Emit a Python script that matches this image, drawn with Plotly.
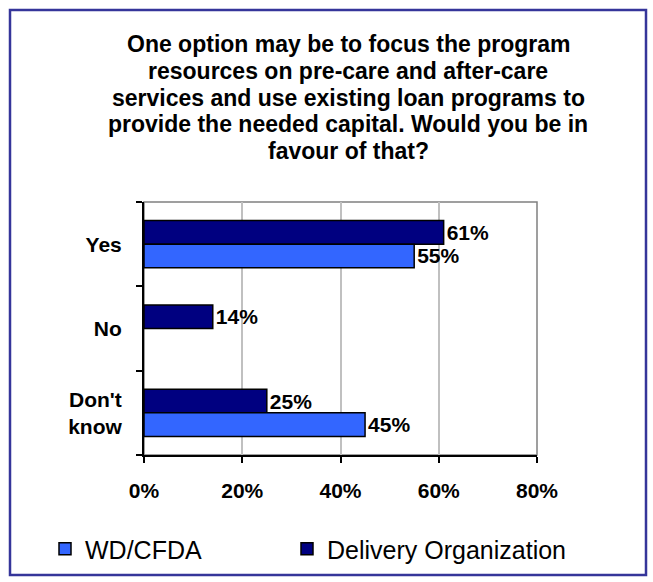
import plotly.graph_objects as go

# Survey responses (percent)
categories = ["Yes", "No", "Don't know"]
category_labels = ["Yes", "No", "Don't<br>know"]
wd_cfda = [55, None, 45]
delivery_org = [61, 14, 25]
series_names = ["WD/CFDA", "Delivery Organization"]
x_ticks = [0, 20, 40, 60, 80]
x_tick_labels = ["0%", "20%", "40%", "60%", "80%"]
title_lines = [
    "One option may be to focus the program",
    "resources on pre-care and after-care",
    "services and use existing loan programs to",
    "provide the needed capital. Would you be in",
    "favour of that?",
]

FONT = "Liberation Sans, Arial, sans-serif"
W, H = 653, 582
L, R, T, B = 144, 116, 202, 127
plot_w = W - L - R
plot_h = H - T - B


def px_x(px):
    return (px - L) / plot_w


def px_y(py):
    return (H - B - py) / plot_h


label_font = dict(family=FONT, size=21, color="black", weight="bold")

fig = go.Figure()
# Delivery Organization is added first so it sits on top within each group
# (the category axis runs top-to-bottom).
fig.add_trace(go.Bar(
    name=series_names[1], y=categories, x=delivery_org, orientation="h",
    marker=dict(color="#000080", line=dict(color="black", width=1.5)),
    text=[f"{v}%" for v in delivery_org],
    textposition="outside", cliponaxis=False, textfont=label_font,
    legend="legend2",
))
fig.add_trace(go.Bar(
    name=series_names[0], y=categories, x=wd_cfda, orientation="h",
    marker=dict(color="#3366ff", line=dict(color="black", width=1.5)),
    text=[f"{v}%" if v is not None else "" for v in wd_cfda],
    textposition="outside", cliponaxis=False, textfont=label_font,
    legend="legend",
))

annotations = []
for i, line in enumerate(title_lines):
    annotations.append(dict(
        text=line, xref="paper", yref="paper",
        x=px_x(348), y=px_y(44 + 26.8 * i),
        xanchor="center", yanchor="middle", showarrow=False,
        font=dict(family=FONT, size=23, color="black", weight="bold"),
    ))

shapes = [
    # plot area frame
    dict(type="rect", xref="paper", yref="paper", x0=0, x1=1, y0=0, y1=1,
         line=dict(color="#808080", width=1.5), layer="below"),
    # outer chart border
    dict(type="rect", xref="paper", yref="paper",
         x0=px_x(10), x1=px_x(646), y0=px_y(575), y1=px_y(10),
         line=dict(color="#35359a", width=2.5)),
]


def legend_box(x_px):
    return dict(
        orientation="h", xref="container", yref="container",
        x=x_px / W, y=1 - 549 / H,
        xanchor="left", yanchor="middle",
        font=dict(family=FONT, size=25, color="black"),
        bgcolor="rgba(0,0,0,0)", itemwidth=30,
    )


fig.update_layout(
    width=W, height=H,
    margin=dict(l=L, r=R, t=T, b=B),
    paper_bgcolor="white", plot_bgcolor="white",
    barmode="group", bargap=0.44, bargroupgap=0,
    font=dict(family=FONT, color="black"),
    showlegend=True,
    legend=legend_box(45),
    legend2=legend_box(287),
    annotations=annotations,
    shapes=shapes,
)
fig.update_xaxes(
    range=[0, 80], tickvals=x_ticks, ticktext=x_tick_labels,
    showgrid=True, gridcolor="#c0c0c0", gridwidth=1.5,
    showline=True, linecolor="black", linewidth=2,
    ticks="outside", ticklen=6, tickcolor="black", tickwidth=1.5,
    tickfont=label_font,
    ticklabelstandoff=10, zeroline=False, fixedrange=True,
)
fig.update_yaxes(
    autorange="reversed", tickvals=categories, ticktext=category_labels,
    showline=True, linecolor="black", linewidth=2,
    ticks="outside", ticklen=6, tickcolor="black", tickwidth=1.5,
    tickson="boundaries", showgrid=False,
    tickfont=label_font,
    ticklabelstandoff=16, fixedrange=True,
)

fig.write_html("out.html")
